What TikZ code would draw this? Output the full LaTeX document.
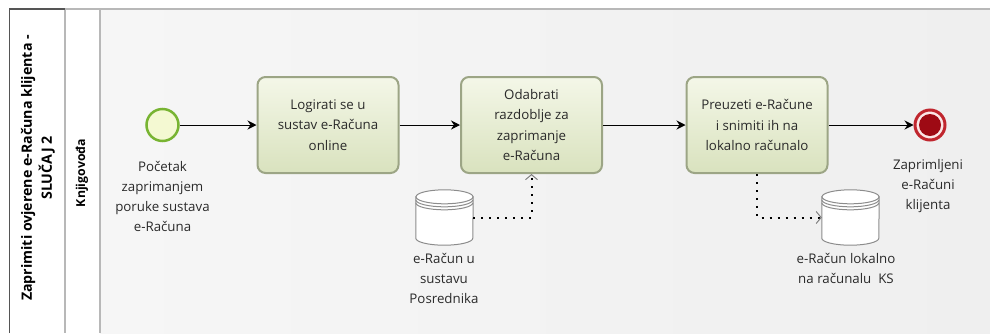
\documentclass[tikz,border=0pt]{standalone}
\usepackage{fontspec}
\setmainfont{Open Sans}
\usetikzlibrary{arrows.meta,calc}
\definecolor{bggray}{HTML}{EFEFEF}
\definecolor{bglight}{HTML}{F6F6F6}
\definecolor{taskstroke}{HTML}{9CA585}
\definecolor{tasktop}{HTML}{F4F7E8}
\definecolor{taskbot}{HTML}{D9E2BE}
\definecolor{startstroke}{HTML}{78B432}
\definecolor{startfill}{HTML}{F4F9D2}
\definecolor{endouter}{HTML}{C0262E}
\definecolor{endinner}{HTML}{9E0A14}
\definecolor{endring}{HTML}{FBE6E6}
\definecolor{dsstroke}{HTML}{8C8C8C}
\definecolor{txt}{HTML}{2A2A2A}
\definecolor{laneline}{HTML}{B8B8B8}
\definecolor{pooldark}{HTML}{555555}
\tikzset{
  task/.style={rectangle, rounded corners=8pt, draw=taskstroke, line width=2pt,
    top color=tasktop, bottom color=taskbot, minimum width=141pt, minimum height=96pt,
    align=center, text=txt, font=\fontsize{13.3}{20.5}\selectfont},
  startev/.style={circle, draw=startstroke, line width=2.5pt, fill=startfill,
    minimum size=32pt, inner sep=0pt},
  endev/.style={circle, draw=endouter, line width=3pt, fill=endring,
    minimum size=30pt, inner sep=0pt},
  lbl/.style={align=center, text=txt, font=\fontsize{13.3}{20}\selectfont, inner sep=0pt},
  dsbox/.style={rectangle, minimum width=57pt, minimum height=55pt, inner sep=0pt},
  seqflow/.style={line width=1pt, black, -{Stealth[length=9pt,width=9pt,inset=3pt]}},
  assoc/.style={line width=2pt, dash pattern=on 2pt off 6pt, black,
    -{Straight Barb[length=5pt,width=12pt,line width=1pt,color=gray]}},
  dsline/.style={draw=dsstroke, line width=1pt},
}
\newcommand\dbdraw[1]{%
  \path[fill=white, dsline] ($(#1.north west)+(0,7)$) -- ($(#1.south west)-(0,7)$)
     arc[start angle=180, end angle=360, x radius=28.5pt, y radius=7pt]
     -- ($(#1.north east)+(0,7)$) -- cycle;
  \draw[dsline, fill=white] ($(#1.north)+(0,7)$) ellipse[x radius=28.5pt, y radius=7pt];
  \draw[dsline] ($(#1.north west)+(0,10)$) arc[start angle=180, end angle=360, x radius=28.5pt, y radius=7pt];
  \draw[dsline] ($(#1.north west)+(0,13)$) arc[start angle=180, end angle=360, x radius=28.5pt, y radius=7pt];
}
\begin{document}
\begin{tikzpicture}[x=1pt,y=-1pt]
\useasboundingbox (0,0) rectangle (990,333);
\fill[white] (0,0) rectangle (990,333);
\shade[left color=bglight, right color=bggray] (100,9) rectangle (990,333);
% pool frame
\draw[laneline, line width=2pt] (65,9) -- (990,9);
\draw[laneline, line width=1.5pt] (65,9) -- (65,333);
\draw[laneline, line width=1.5pt] (100,9) -- (100,333);
\draw[pooldark, line width=1.5pt] (9.5,333) -- (9.5,9) -- (65,9);
% pool and lane labels
\node[rotate=90, align=center, font=\fontsize{14.2}{20}\selectfont\bfseries, text=black] (pooltitle) at (38,168)
  {Zaprimiti ovjerene e-Računa klijenta -\\SLUČAJ 2};
\node[rotate=90, font=\fontsize{12.3}{14}\selectfont\bfseries, text=black] (lanetitle) at (82,173) {Knjigovođa};
% events and tasks
\node[startev] (start) at (162.5,125) {};
\node[lbl] (startlbl) at (162.5,196) {Početak\\zaprimanjem\\poruke sustava\\e-Računa};
\node[task] (t1) at (328,125) {Logirati se u\\sustav e-Računa\\online};
\node[task] (t2) at (531.5,125) {Odabrati\\razdoblje za\\zaprimanje\\e-Računa};
\node[task] (t3) at (757,125) {Preuzeti e-Račune\\i snimiti ih na\\lokalno računalo};
\node[endev] (end) at (930,125) {};
\fill[endinner] (end.center) circle[radius=11pt];
\node[lbl] (endlbl) at (928,186) {Zaprimljeni\\e-Računi\\klijenta};
% data stores
\node[dsbox] (ds1) at (444.5,217.5) {};
\dbdraw{ds1}
\node[lbl] (ds1lbl) at (444,278) {e-Račun u\\sustavu\\Posrednika};
\node[dsbox] (ds2) at (850.5,217.5) {};
\dbdraw{ds2}
\node[lbl] (ds2lbl) at (846,268) {e-Račun lokalno\\na računalu\ \ KS};
% flows
\draw[seqflow] (start) -- (t1);
\draw[seqflow] (t1) -- (t2);
\draw[seqflow] (t2) -- (t3);
\draw[seqflow] (t3) -- (end);
\draw[assoc] (ds1.east) -| (t2.south);
\draw[assoc] (t3.south) |- (ds2.west);
\end{tikzpicture}
\end{document}
